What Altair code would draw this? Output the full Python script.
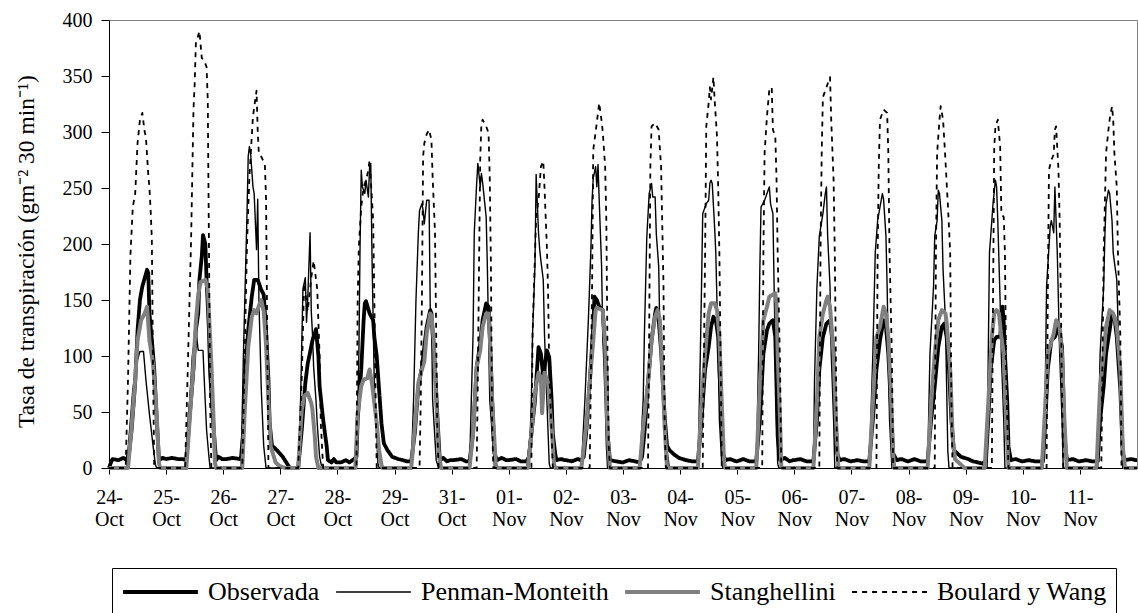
import altair as alt
import pandas as pd

# ---------------- data ----------------
DATE_LABELS = ["24-Oct", "25-Oct", "26-Oct", "27-Oct", "28-Oct", "29-Oct", "31-Oct",
               "01-Nov", "02-Nov", "03-Nov", "04-Nov", "05-Nov", "06-Nov", "07-Nov",
               "08-Nov", "09-Nov", "10-Nov", "11-Nov"]
SERIES = ["Observada", "Penman-Monteith", "Stanghellini", "Boulard y Wang"]
SLOTS_PER_DAY = 48          # half-hour records per day
Y_TICKS = [0, 50, 100, 150, 200, 250, 300, 350, 400]

# each day: list of (half-hour slot within the day, value)
OBSERVADA = [
    [(0, 0), (2, 6), (3, 8), (8, 7), (12, 9), (15, 7), (17, 15), (19, 34), (22, 76), (24, 123), (26, 150), (28, 162), (32, 177), (33, 174), (34, 138), (37, 102), (38, 88), (40, 46), (42, 7), (45, 9)],
    [(0, 8), (5, 9), (10, 8), (14, 8), (17, 7), (20, 49), (23, 88), (25, 123), (27, 138), (28, 168), (30, 189), (31, 208), (32, 204), (33, 200), (34, 168), (36, 123), (37, 85), (40, 34), (42, 7), (44, 10), (47, 8)],
    [(3, 8), (8, 9), (14, 8), (15, 10), (17, 34), (19, 93), (21, 123), (24, 153), (26, 168), (29, 168), (32, 159), (34, 155), (36, 123), (38, 79), (39, 40), (41, 20), (45, 16)],
    [(2, 10), (8, 0), (15, 0), (18, 34), (21, 76), (23, 93), (27, 114), (30, 124), (32, 100), (33, 73), (36, 43), (39, 19), (40, 7), (43, 5), (45, 8), (47, 5)],
    [(3, 5), (7, 7), (10, 5), (14, 8), (16, 10), (17, 43), (20, 88), (22, 132), (23, 147), (24, 149), (27, 138), (30, 132), (31, 117), (33, 100), (35, 70), (37, 40), (39, 22), (42, 16), (46, 10)],
    [(3, 8), (7, 7), (10, 6), (14, 6), (17, 31), (20, 73), (23, 90), (27, 126), (30, 141), (31, 138), (32, 120), (34, 90), (36, 46), (38, 7), (41, 9), (44, 6), (47, 7)],
    [(2, 7), (8, 8), (12, 6), (15, 6), (18, 31), (21, 90), (24, 111), (26, 132), (29, 147), (31, 144), (32, 120), (34, 61), (36, 13), (38, 7), (42, 9), (46, 7)],
    [(0, 7), (6, 8), (10, 6), (15, 6), (17, 10), (19, 31), (22, 60), (23, 76), (25, 108), (27, 102), (29, 81), (32, 105), (34, 99), (36, 61), (37, 31), (39, 13), (40, 7), (44, 8), (47, 7)],
    [(0, 7), (5, 6), (10, 8), (13, 7), (15, 10), (17, 31), (20, 76), (23, 126), (24, 153), (26, 150), (28, 144), (31, 141), (33, 100), (34, 90), (35, 31), (37, 7), (42, 6), (47, 5)],
    [(0, 5), (5, 7), (10, 6), (14, 5), (16, 10), (18, 31), (21, 76), (24, 114), (27, 138), (28, 143), (30, 132), (32, 105), (35, 46), (37, 20), (39, 16), (43, 12), (47, 9)],
    [(5, 7), (10, 6), (15, 6), (18, 43), (21, 88), (24, 108), (26, 126), (28, 135), (30, 132), (32, 117), (33, 88), (35, 43), (36, 13), (38, 7), (42, 8), (47, 6)],
    [(0, 6), (5, 8), (10, 6), (16, 6), (19, 43), (22, 102), (25, 123), (27, 129), (30, 132), (32, 117), (33, 73), (34, 28), (36, 7), (40, 9), (44, 6), (47, 7)],
    [(0, 7), (5, 8), (10, 6), (16, 6), (19, 43), (21, 88), (24, 117), (27, 129), (30, 132), (31, 123), (33, 102), (34, 58), (36, 13), (38, 7), (42, 8), (47, 6)],
    [(0, 6), (5, 7), (10, 6), (15, 6), (18, 43), (21, 88), (24, 114), (27, 132), (29, 126), (31, 102), (33, 58), (35, 13), (38, 7), (42, 8), (47, 6)],
    [(0, 6), (5, 8), (10, 6), (16, 6), (19, 43), (22, 73), (25, 108), (28, 126), (30, 129), (32, 117), (34, 88), (36, 43), (38, 16), (40, 14), (44, 10), (47, 9)],
    [(2, 8), (6, 6), (10, 5), (14, 4), (17, 6), (19, 43), (21, 88), (24, 114), (26, 117), (29, 117), (31, 144), (32, 130), (33, 102), (35, 58), (36, 19), (38, 7), (42, 8), (47, 6)],
    [(0, 6), (5, 7), (10, 6), (17, 6), (19, 43), (21, 88), (24, 114), (27, 117), (30, 126), (33, 108), (34, 70), (35, 28), (37, 7), (42, 8), (47, 6)],
    [(0, 6), (5, 7), (10, 6), (15, 6), (17, 43), (20, 73), (22, 102), (25, 123), (27, 138), (29, 135), (31, 117), (34, 70), (36, 13), (38, 7), (43, 8), (47, 7)],
]

PENMAN = [
    [(15, 0), (17, 30), (20, 70), (23, 93), (26, 104), (29, 104), (31, 79), (34, 48), (37, 20), (39, 3), (40, 0)],
    [(16, 0), (18, 30), (20, 64), (22, 100), (25, 123), (27, 105), (31, 105), (32, 80), (34, 34), (36, 10), (37, 0)],
    [(15, 0), (17, 102), (20, 228), (21, 278), (22, 287), (23, 281), (25, 251), (26, 245), (28, 195), (29, 240), (30, 150), (32, 70), (34, 20), (36, 0)],
    [(15, 0), (17, 60), (19, 160), (21, 170), (22, 130), (23, 150), (25, 210), (26, 140), (27, 120), (28, 90), (30, 60), (31, 40), (33, 10), (35, 0)],
    [(16, 0), (18, 100), (19, 198), (20, 266), (21, 251), (23, 245), (24, 257), (26, 242), (27, 268), (28, 272), (29, 192), (30, 132), (31, 73), (33, 28), (34, 4), (35, 0)],
    [(14, 0), (16, 61), (18, 150), (20, 210), (21, 230), (23, 236), (24, 230), (25, 218), (27, 239), (29, 239), (30, 143), (31, 140), (32, 61), (35, 7), (37, 0)],
    [(15, 0), (18, 120), (19, 210), (21, 254), (22, 272), (24, 251), (25, 263), (26, 255), (29, 224), (30, 180), (31, 120), (32, 61), (35, 16), (36, 0)],
    [(15, 0), (18, 30), (19, 61), (20, 120), (22, 180), (23, 262), (25, 210), (26, 195), (27, 185), (29, 168), (30, 120), (32, 61), (34, 4), (35, 0)],
    [(13, 0), (16, 61), (19, 135), (21, 195), (22, 239), (23, 259), (25, 269), (26, 251), (27, 271), (28, 239), (30, 180), (31, 120), (33, 60), (34, 20), (35, 0)],
    [(14, 0), (17, 61), (18, 120), (20, 206), (22, 245), (24, 254), (25, 242), (27, 242), (28, 209), (30, 180), (31, 120), (34, 61), (37, 16), (39, 0)],
    [(15, 0), (16, 50), (17, 102), (18, 162), (19, 227), (22, 236), (24, 239), (25, 254), (26, 257), (27, 254), (29, 215), (30, 192), (31, 147), (32, 102), (33, 43), (35, 4), (36, 0)],
    [(16, 0), (18, 102), (19, 177), (20, 233), (23, 239), (25, 245), (27, 251), (28, 236), (30, 227), (31, 162), (32, 102), (33, 43), (34, 4), (35, 0)],
    [(16, 0), (17, 80), (19, 162), (21, 207), (24, 227), (26, 245), (27, 251), (28, 207), (30, 162), (31, 102), (33, 43), (34, 0)],
    [(15, 0), (18, 102), (20, 192), (22, 221), (24, 233), (26, 245), (27, 240), (29, 207), (30, 162), (31, 102), (32, 43), (34, 0)],
    [(16, 0), (18, 102), (21, 162), (22, 207), (24, 221), (25, 248), (26, 245), (28, 221), (29, 177), (31, 132), (32, 73), (33, 15), (34, 0)],
    [(18, 0), (19, 102), (20, 192), (22, 221), (23, 236), (25, 257), (26, 251), (27, 221), (29, 147), (30, 100), (32, 43), (33, 0)],
    [(17, 0), (19, 80), (20, 162), (23, 215), (24, 221), (26, 210), (27, 251), (28, 221), (29, 192), (30, 147), (31, 102), (33, 43), (34, 0)],
    [(15, 0), (17, 102), (20, 162), (21, 207), (22, 236), (24, 248), (25, 245), (27, 221), (28, 192), (31, 168), (32, 132), (34, 73), (35, 20), (36, 0)],
]

STANGHELLINI = [
    [(16, 0), (19, 37), (22, 79), (24, 114), (27, 132), (30, 138), (32, 144), (34, 114), (37, 93), (40, 49), (42, 4), (43, 0)],
    [(17, 0), (20, 46), (23, 93), (25, 130), (27, 155), (29, 166), (33, 168), (35, 160), (36, 138), (38, 93), (40, 40), (41, 5), (42, 0)],
    [(16, 0), (18, 49), (21, 108), (24, 135), (26, 141), (28, 138), (30, 145), (32, 150), (34, 140), (36, 110), (38, 60), (40, 19), (44, 5), (47, 2)],
    [(4, 0), (15, 0), (18, 52), (20, 64), (23, 67), (26, 58), (27, 52), (29, 28), (30, 10), (32, 0)],
    [(15, 0), (17, 49), (20, 73), (22, 79), (25, 80), (27, 88), (29, 76), (31, 58), (33, 40), (35, 16), (37, 3), (38, 0)],
    [(14, 0), (17, 37), (20, 76), (23, 88), (25, 95), (27, 120), (30, 138), (31, 136), (33, 114), (35, 61), (37, 16), (39, 0)],
    [(15, 0), (18, 31), (21, 90), (24, 105), (26, 126), (29, 138), (31, 138), (32, 120), (34, 61), (37, 4), (38, 0)],
    [(16, 0), (19, 31), (22, 67), (25, 85), (27, 81), (28, 49), (30, 85), (33, 76), (36, 37), (38, 4), (39, 0)],
    [(13, 0), (17, 37), (20, 76), (23, 114), (25, 141), (26, 143), (31, 141), (33, 110), (35, 31), (37, 0)],
    [(14, 0), (17, 37), (21, 76), (24, 114), (27, 135), (29, 141), (31, 132), (33, 90), (35, 37), (37, 0)],
    [(15, 0), (18, 58), (21, 102), (24, 138), (26, 147), (29, 147), (31, 141), (33, 117), (35, 58), (37, 4), (38, 0)],
    [(16, 0), (19, 73), (22, 132), (25, 144), (27, 153), (32, 156), (33, 147), (34, 102), (36, 43), (37, 2), (38, 0)],
    [(16, 0), (19, 58), (21, 117), (24, 138), (27, 150), (28, 153), (30, 144), (33, 102), (35, 43), (37, 0)],
    [(15, 0), (18, 58), (21, 117), (24, 126), (27, 144), (29, 138), (31, 117), (33, 73), (35, 13), (36, 0)],
    [(16, 0), (19, 58), (22, 102), (25, 132), (28, 141), (31, 138), (32, 130), (35, 88), (37, 28), (39, 8), (43, 4), (47, 0)],
    [(16, 0), (19, 58), (22, 117), (24, 138), (26, 141), (28, 138), (30, 117), (32, 102), (34, 43), (36, 0)],
    [(16, 0), (19, 58), (21, 102), (26, 120), (28, 132), (31, 126), (33, 100), (35, 43), (37, 0)],
    [(14, 0), (17, 73), (20, 102), (22, 126), (25, 141), (28, 138), (31, 126), (34, 88), (36, 19), (38, 0)],
]

BOULARD = [
    [(14, 0), (16, 80), (18, 190), (20, 233), (22, 245), (24, 290), (26, 311), (28, 317), (30, 300), (31, 296), (33, 262), (34, 250), (35, 230), (36, 205), (37, 90), (38, 0)],
    [(16, 0), (18, 80), (21, 204), (23, 320), (24, 343), (25, 379), (28, 390), (30, 366), (32, 364), (34, 358), (35, 329), (36, 200), (37, 60), (38, 0)],
    [(16, 0), (18, 100), (20, 200), (22, 260), (25, 314), (28, 337), (29, 300), (30, 280), (32, 278), (35, 271), (36, 240), (37, 120), (38, 0)],
    [(15, 0), (18, 80), (20, 165), (23, 140), (26, 170), (28, 185), (31, 160), (33, 100), (34, 40), (36, 0)],
    [(16, 0), (17, 150), (18, 198), (20, 233), (22, 251), (24, 257), (26, 266), (27, 275), (29, 240), (30, 221), (31, 150), (32, 70), (33, 0)],
    [(21, 0), (22, 60), (23, 150), (24, 278), (25, 290), (27, 298), (29, 302), (31, 293), (32, 260), (34, 210), (35, 120), (36, 30), (37, 0)],
    [(21, 0), (22, 80), (23, 180), (24, 275), (25, 308), (26, 311), (29, 305), (31, 299), (32, 260), (33, 180), (34, 40), (35, 0)],
    [(19, 0), (20, 120), (22, 190), (23, 224), (25, 239), (26, 254), (27, 269), (29, 274), (30, 251), (32, 198), (33, 160), (34, 90), (36, 30), (37, 0)],
    [(20, 0), (21, 80), (22, 160), (23, 284), (25, 300), (28, 326), (30, 310), (31, 300), (33, 269), (34, 220), (35, 100), (36, 20), (37, 0)],
    [(21, 0), (22, 120), (23, 269), (24, 305), (27, 308), (30, 302), (32, 269), (34, 165), (35, 40), (36, 0)],
    [(19, 0), (20, 100), (21, 192), (22, 305), (24, 326), (25, 340), (26, 329), (28, 349), (29, 329), (31, 296), (32, 251), (33, 192), (34, 100), (35, 0)],
    [(21, 0), (22, 192), (23, 281), (25, 314), (27, 338), (29, 340), (30, 302), (32, 296), (33, 260), (34, 192), (36, 90), (37, 0)],
    [(21, 0), (22, 192), (23, 281), (24, 331), (27, 340), (30, 349), (31, 311), (33, 257), (34, 192), (35, 90), (36, 0)],
    [(21, 0), (22, 192), (23, 272), (24, 311), (27, 320), (30, 317), (31, 281), (32, 192), (34, 100), (35, 0)],
    [(22, 0), (23, 192), (24, 281), (26, 311), (27, 323), (29, 311), (31, 275), (32, 255), (33, 236), (35, 192), (36, 60), (37, 0)],
    [(22, 0), (23, 150), (24, 286), (25, 305), (27, 311), (29, 287), (30, 227), (32, 224), (33, 192), (34, 88), (36, 0)],
    [(20, 0), (21, 150), (22, 266), (24, 275), (26, 280), (27, 302), (28, 305), (30, 266), (31, 221), (32, 150), (33, 60), (34, 0)],
    [(18, 0), (20, 192), (21, 236), (22, 281), (24, 302), (25, 311), (27, 323), (28, 311), (29, 281), (31, 251), (32, 192), (34, 117), (35, 0)],
]

N_DAYS = len(DATE_LABELS)

# ---------------- table ----------------
rows = []
for name, days in zip(SERIES, [OBSERVADA, PENMAN, STANGHELLINI, BOULARD]):
    pts = []
    for d, day in enumerate(days):
        for n, v in day:
            pts.append(((d * SLOTS_PER_DAY + n) / SLOTS_PER_DAY, v))
    if pts[0][0] > 0:
        pts.insert(0, (0.0, 0))
    if pts[-1][0] < N_DAYS:
        pts.append((float(N_DAYS), pts[-1][1]))
    for t, v in pts:
        rows.append({"t": t, "v": v, "series": name})
df = pd.DataFrame(rows)

# ---------------- chart ----------------
FONT = "Liberation Serif"
label_expr = "[" + ",".join(
    "['%s-','%s']" % tuple(lbl.split("-")) for lbl in DATE_LABELS
) + "][datum.value]"

x_enc = alt.X(
    "t:Q",
    scale=alt.Scale(domain=[0, N_DAYS], nice=False, zero=False),
    axis=alt.Axis(values=list(range(N_DAYS)), labelExpr=label_expr, title=None,
                  tickSize=6, labelFontSize=20, labelPadding=13, labelLineHeight=22,
                  labelBaseline="top", labelAlign="center", labelOverlap=False,
                  labelFlush=False, grid=False),
)
y_enc = alt.Y(
    "v:Q",
    scale=alt.Scale(domain=[0, 400], nice=False),
    axis=alt.Axis(values=Y_TICKS, title="Tasa de transpiración (gm⁻² 30 min⁻¹)",
                  tickSize=8, labelFontSize=20, labelPadding=9, titleFontSize=23.5,
                  titleFontWeight="normal", titlePadding=24, titleY=231, grid=False),
)
color_enc = alt.Color("series:N", title=None,
                      scale=alt.Scale(domain=SERIES, range=["#000000", "#000000", "#808080", "#000000"]))
width_enc = alt.StrokeWidth("series:N", title=None,
                            scale=alt.Scale(type="ordinal", domain=SERIES, range=[3.8, 1.4, 4.0, 1.8]))
dash_enc = alt.StrokeDash("series:N", title=None,
                          scale=alt.Scale(domain=SERIES, range=[[1, 0], [1, 0], [1, 0], [5, 5]]))

layers = []
for s in SERIES:
    layers.append(
        alt.Chart(df).transform_filter(alt.datum.series == s)
        .mark_line(strokeJoin="round", strokeCap="butt")
        .encode(x=x_enc, y=y_enc, color=color_enc, strokeWidth=width_enc,
                strokeDash=dash_enc, order="t:Q")
    )

chart = (
    alt.layer(*layers)
    .properties(width=1028, height=448, autosize=alt.AutoSizeParams(type="none"),
                padding={"left": 109, "top": 20, "right": 1, "bottom": 145},
                background="white")
    .configure_view(stroke="#808080", strokeWidth=1)
    .configure_axis(labelFont=FONT, titleFont=FONT, labelColor="black", titleColor="black",
                    domainColor="black", tickColor="black", domainWidth=1, tickWidth=1)
    .configure_legend(orient="none", legendX=3, legendY=548, direction="horizontal",
                      columns=4, symbolType="stroke", symbolSize=5600, clipHeight=30,
                      labelFont=FONT, labelFontSize=26, labelColor="black",
                      labelOffset=8, columnPadding=14, padding=9, labelLimit=400,
                      strokeColor="black", fillColor="white")
)

chart.save("out.html", embed_options={"renderer": "svg", "actions": False})
